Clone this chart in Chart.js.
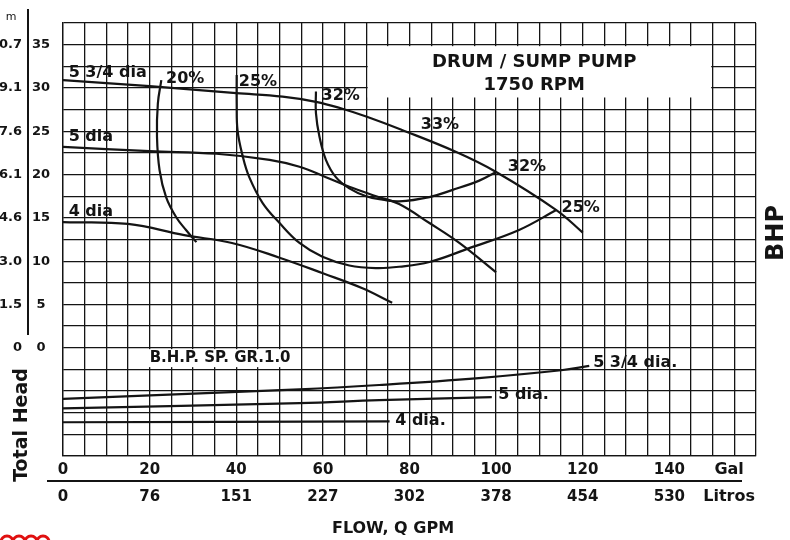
<!DOCTYPE html>
<html>

<head>
    <title>Drum / Sump Pump 1750 RPM</title>
    <script src="https://cdn.jsdelivr.net/npm/chart.js@4.4.2/dist/chart.umd.min.js"></script>
    <style>
        body {
            margin: 0;
            background: #fff;
        }

        .chartBox {
            width: 790px;
            height: 540px;
        }
    </style>
</head>

<body>
    <div class="chartBox">
        <canvas id="curvaBomba" width="790" height="540"></canvas>
    </div>
    <script>
        // escalas dos eixos
        const vazaoGal = [0, 20, 40, 60, 80, 100, 120, 140];
        const vazaoLitros = [0, 76, 151, 227, 302, 378, 454, 530];
        const alturaPes = [0, 5, 10, 15, 20, 25, 30, 35];
        const alturaMetros = ['0', '1.5', '3.0', '4.6', '6.1', '7.6', '9.1', '10.7'];

        // curvas de altura (GPM x pes)
        const q575 = [0, 20, 30, 40, 50.7, 58.4, 64.5, 70, 78, 90.8, 100, 113.9, 120];
        const h575 = [30.9, 30.2, 29.8, 29.4, 29.0, 28.4, 27.6, 26.7, 25.2, 22.6, 20.3, 15.9, 13.3];
        const q5 = [0, 20, 35.4, 47.7, 54.6, 60.7, 66.1, 72.3, 77.6, 84.6, 91.5, 100];
        const h5 = [23.2, 22.7, 22.4, 21.7, 20.9, 19.7, 18.6, 17.5, 16.6, 14.4, 12.1, 8.7];
        const q4 = [0, 15, 28, 39, 50, 60, 69, 76];
        const h4 = [14.5, 14.3, 13.0, 12.1, 10.4, 8.6, 6.9, 5.2];

        // curvas de rendimento
        const qEf20 = [22.7, 21.9, 21.7, 22.3, 23.8, 26.1, 28.4, 30.8];
        const hEf20 = [30.9, 28.2, 24.4, 20.5, 17.4, 15.1, 13.6, 12.2];
        const qEf25 = [40.1, 40.1, 40.3, 41.5, 43.0, 46.1, 50.0, 54.6, 59.9, 66.1, 72.3, 77.6, 84.6, 93.8, 105.3, 113.9];
        const hEf25 = [31.5, 28.2, 25.1, 22.1, 19.7, 16.7, 14.4, 12.1, 10.5, 9.5, 9.2, 9.35, 9.9, 11.5, 13.6, 15.9];
        const qEf32 = [58.4, 58.4, 59.2, 60.7, 63.0, 66.1, 70.0, 73.8, 77.6, 84.6, 89.8, 96.1, 100];
        const hEf32 = [29.6, 27.1, 24.4, 21.7, 19.7, 18.4, 17.5, 17.1, 16.9, 17.4, 18.2, 19.3, 20.3];

        // curvas de potencia (BHP), desenhadas na faixa abaixo de zero
        const qBhp575 = [0, 54.6, 73, 96, 115, 121.5];
        const yBhp575 = [-5.9, -4.8, -4.3, -3.5, -2.6, -2.1];
        const qBhp5 = [0, 54.6, 73, 99];
        const yBhp5 = [-7.0, -6.4, -6.05, -5.7];
        const qBhp4 = [0, 75.4];
        const yBhp4 = [-8.6, -8.5];

        const FONTE = '"DejaVu Sans"';
        const COR = '#141414';

        // textos: [texto, gpm, pes, tamanho]
        const rotulos = [
            ['5 3/4 dia', 1.3, 31.8, 16],
            ['5 dia', 1.3, 24.3, 16],
            ['4 dia', 1.3, 15.7, 16],
            ['20%', 23.8, 31.1, 16],
            ['25%', 40.6, 30.7, 16],
            ['32%', 59.7, 29.1, 16],
            ['33%', 82.6, 25.7, 16],
            ['32%', 102.7, 20.9, 16],
            ['25%', 115.1, 16.1, 16],
            ['5 3/4 dia.', 122.4, -1.7, 16],
            ['5 dia.', 100.5, -5.45, 16],
            ['4 dia.', 76.7, -8.4, 16]
        ];

        function pares(xs, ys) {
            return xs.map((x, i) => ({ x: x, y: ys[i] }));
        }

        function linha(xs, ys) {
            return {
                data: pares(xs, ys),
                showLine: true,
                borderColor: COR,
                borderWidth: 2.2,
                pointRadius: 0,
                tension: 0.4,
                fill: false
            };
        }

        const decoracao = {
            id: 'decoracao',
            beforeDatasetsDraw(chart) {
                const ctx = chart.ctx;
                const xs = chart.scales.x, ys = chart.scales.y;
                // caixa branca do titulo
                const x1 = xs.getPixelForValue(70) + 1.5, x2 = xs.getPixelForValue(150) - 1.5;
                const y1 = ys.getPixelForValue(35) + 1.5, y2 = ys.getPixelForValue(28.9);
                ctx.save();
                ctx.fillStyle = '#fff';
                ctx.fillRect(x1, y1, x2 - x1, y2 - y1);
                // fundo do texto B.H.P.
                ctx.font = 'bold 15px ' + FONTE;
                const tx = xs.getPixelForValue(20), ty = ys.getPixelForValue(-1.2);
                const w = ctx.measureText('B.H.P. SP. GR.1.0').width;
                ctx.fillRect(tx - 2, ty - 9, w + 4, 18);
                ctx.restore();
            },
            afterDatasetsDraw(chart) {
                const ctx = chart.ctx;
                const xs = chart.scales.x, ys = chart.scales.y;
                ctx.save();
                ctx.fillStyle = COR;
                ctx.textBaseline = 'middle';

                ctx.textAlign = 'left';
                rotulos.forEach(r => {
                    ctx.font = 'bold ' + r[3] + 'px ' + FONTE;
                    ctx.fillText(r[0], xs.getPixelForValue(r[1]), ys.getPixelForValue(r[2]));
                });

                ctx.font = 'bold 15px ' + FONTE;
                ctx.fillText('B.H.P. SP. GR.1.0', xs.getPixelForValue(20), ys.getPixelForValue(-1.2));

                ctx.font = 'bold 18px ' + FONTE;
                ctx.textAlign = 'center';
                const cx = xs.getPixelForValue(108.8);
                ctx.fillText('DRUM / SUMP PUMP', cx, ys.getPixelForValue(33.0));
                ctx.fillText('1750 RPM', cx, ys.getPixelForValue(30.3));

                // unidades do eixo x
                ctx.font = 'bold 16px ' + FONTE;
                const ux = xs.getPixelForValue(153.8);
                ctx.fillText('Gal', ux, xs.top + 14);
                ctx.fillText('Litros', ux, xs.top + 41);

                ctx.strokeStyle = COR;
                ctx.lineWidth = 2;
                ctx.beginPath();
                ctx.moveTo(47, xs.top + 25);
                ctx.lineTo(742, xs.top + 25);
                ctx.stroke();

                ctx.font = 'bold 16px ' + FONTE;
                ctx.fillText('FLOW, Q GPM', 393, 529);

                // eixo vertical da esquerda
                ctx.beginPath();
                ctx.moveTo(28, 9);
                ctx.lineTo(28, 335);
                ctx.stroke();
                ctx.font = '11px ' + FONTE;
                ctx.fillText('m', 11, 17);

                ctx.font = 'bold 19px ' + FONTE;
                ctx.translate(22, 425);
                ctx.rotate(-Math.PI / 2);
                ctx.fillText('Total Head', 0, 0);
                ctx.setTransform(1, 0, 0, 1, 0, 0);

                ctx.font = 'bold 24px ' + FONTE;
                ctx.translate(777, 233);
                ctx.rotate(-Math.PI / 2);
                ctx.fillText('BHP', 0, 0);
                ctx.setTransform(1, 0, 0, 1, 0, 0);

                // logo vermelho cortado
                ctx.strokeStyle = '#e01010';
                ctx.lineWidth = 3;
                for (let i = 0; i < 4; i++) {
                    ctx.beginPath();
                    ctx.arc(7 + i * 12, 542, 6, Math.PI, 2 * Math.PI);
                    ctx.stroke();
                }
                ctx.restore();
            }
        };

        const grade = { color: COR, lineWidth: 1.3, drawTicks: false };

        new Chart(document.getElementById('curvaBomba'), {
            type: 'scatter',
            data: {
                datasets: [
                    linha(q575, h575), linha(q5, h5), linha(q4, h4),
                    linha(qEf20, hEf20), linha(qEf25, hEf25), linha(qEf32, hEf32),
                    linha(qBhp575, yBhp575), linha(qBhp5, yBhp5), linha(qBhp4, yBhp4)
                ]
            },
            options: {
                responsive: false,
                animation: false,
                devicePixelRatio: 1,
                layout: { padding: { left: 0, top: 23, right: 34, bottom: 24 } },
                plugins: { legend: { display: false }, tooltip: { enabled: false } },
                scales: {
                    x: {
                        type: 'linear', min: 0, max: 160,
                        grid: grade,
                        border: { color: COR, width: 1.3 },
                        ticks: {
                            stepSize: 5, autoSkip: false, maxRotation: 0, padding: 0.5,
                            color: COR,
                            font: { family: FONTE, weight: 'bold', size: 15, lineHeight: 1.8 },
                            callback: v => {
                                const i = vazaoGal.indexOf(v);
                                return i < 0 ? '' : [String(vazaoGal[i]), String(vazaoLitros[i])];
                            }
                        },
                        afterFit: s => { s.height = 60; }
                    },
                    y: {
                        type: 'linear', min: -12.5, max: 37.5, position: 'left', weight: 0,
                        grid: grade,
                        border: { color: COR, width: 1.3 },
                        ticks: {
                            stepSize: 2.5, autoSkip: false, padding: 13, crossAlign: 'center',
                            color: COR,
                            font: { family: FONTE, weight: 'bold', size: 13 },
                            callback: v => {
                                const i = alturaPes.indexOf(v);
                                return i < 0 ? '' : String(alturaPes[i]);
                            }
                        },
                        afterFit: s => { s.width = 35; }
                    },
                    ym: {
                        type: 'linear', min: -12.5, max: 37.5, position: 'left', weight: 1,
                        grid: { display: false, drawTicks: false },
                        border: { display: false },
                        ticks: {
                            stepSize: 2.5, autoSkip: false, padding: 6, crossAlign: 'near',
                            color: COR,
                            font: { family: FONTE, weight: 'bold', size: 13 },
                            callback: v => {
                                const i = alturaPes.indexOf(v);
                                return i < 0 ? '' : alturaMetros[i];
                            }
                        },
                        afterFit: s => { s.width = 28; }
                    }
                }
            },
            plugins: [decoracao]
        });
    </script>
</body>

</html>
